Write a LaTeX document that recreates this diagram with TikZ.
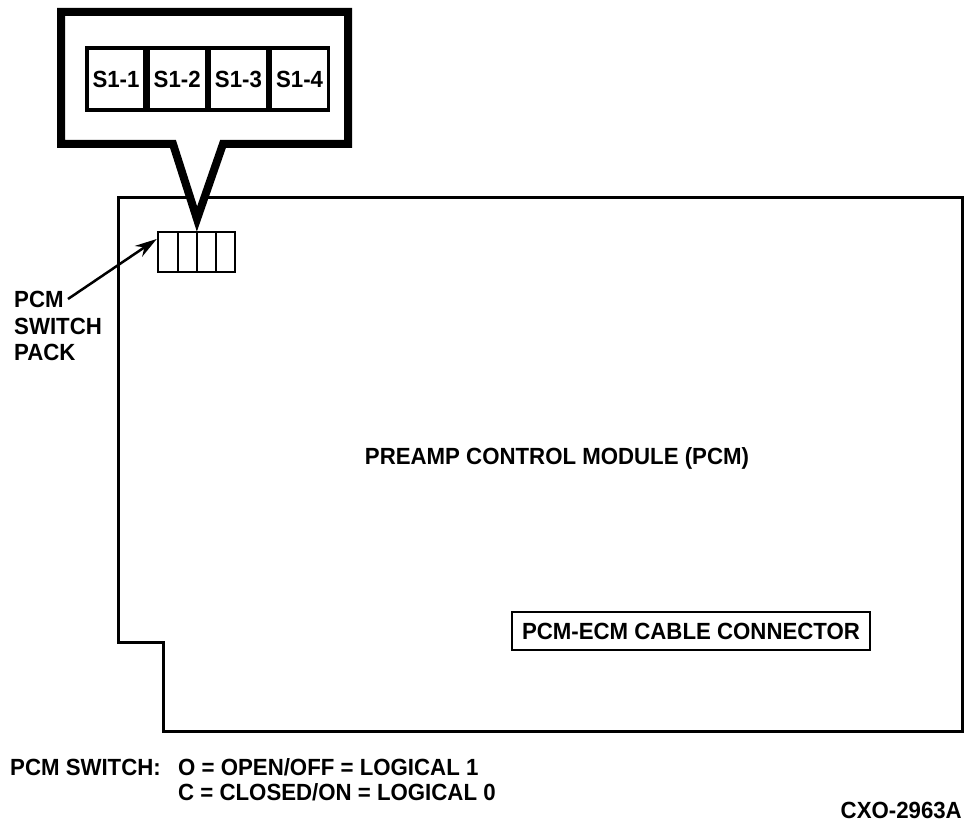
\documentclass[tikz,border=0pt]{standalone}
\usepackage{fontspec}
\setmainfont{Liberation Sans}[FakeStretch=0.95]
\usetikzlibrary{arrows.meta}
\begin{document}
\begin{tikzpicture}[x=1pt,y=-1pt,
  every node/.style={font=\fontsize{23.4}{26}\selectfont\bfseries, inner sep=0pt},
  board/.style={line width=3pt, line join=miter},
  callout/.style={line width=8pt, line join=miter, fill=white},
  swbox/.style={draw, line width=3.2pt, minimum width=58pt, minimum height=62pt},
  packbox/.style={draw, line width=2.5pt, minimum width=77pt, minimum height=40pt},
  lbl/.style={align=left, font=\fontsize{23.4}{26.5}\selectfont\bfseries},
  arr/.style={line width=2.5pt, -{Stealth[length=22pt,width=13pt]}}
]
\useasboundingbox (0,0) rectangle (969,824);
% board outline
\draw[board] (118,197) -- (962,197) -- (962,731) -- (163,731) -- (163,642) -- (118,642) -- cycle;
% switch pack on board
\node[packbox] (pack) at (196.5,252) {};
\draw[line width=2pt] (177.5,232) -- (177.5,272) (196.5,232) -- (196.5,272) (215.5,232) -- (215.5,272);
% callout
\draw[callout] (61,12) -- (348,12) -- (348,144) -- (223,144) -- (197,219) -- (173,144) -- (61,144) -- cycle;
% switch boxes in callout
\node[swbox] (s1) at (116,79) {S1-1};
\node[swbox, anchor=west] (s2) at (s1.east) {S1-2};
\node[swbox, anchor=west] (s3) at (s2.east) {S1-3};
\node[swbox, anchor=west] (s4) at (s3.east) {S1-4};
% label with arrow
\node[lbl, anchor=north west] (packlbl) at (14,291) {PCM\\SWITCH\\PACK};
\coordinate (arrstart) at (68,299);
\draw[arr] (arrstart) -- ([yshift=13pt]pack.west);
% main label
\node (pcm) at (557,458) {PREAMP CONTROL MODULE (PCM)};
% connector
\node[draw, line width=2.2pt, minimum width=358pt, minimum height=38pt] (conn) at (691,631) {PCM-ECM CABLE CONNECTOR};
% legend
\node[anchor=west] (leg1a) at (10,767) {PCM SWITCH:};
\node[anchor=west] (leg1b) at (178,767) {O = OPEN/OFF = LOGICAL 1};
\node[anchor=west] (leg2) at (178,792) {C = CLOSED/ON = LOGICAL 0};
\node[anchor=east] (code) at (962,810) {CXO-2963A};
\end{tikzpicture}
\end{document}
